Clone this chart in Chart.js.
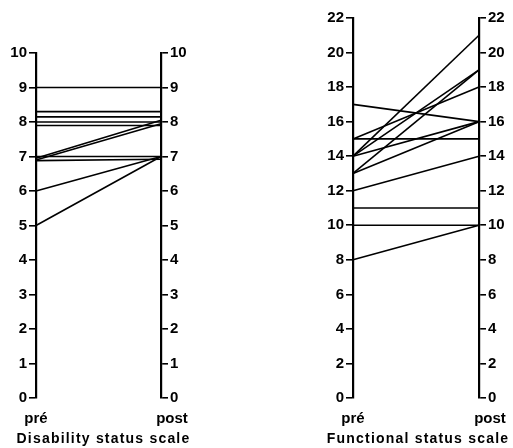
<!DOCTYPE html>
<html>
<head>
<meta charset="utf-8">
<script src="https://cdn.jsdelivr.net/npm/chart.js@4"></script>
<style>
  body { margin: 0; background: #fff; }
  #wrap { position: relative; width: 513px; height: 448px; overflow: hidden; }
  canvas { position: absolute; top: 0; }
</style>
</head>
<body>
<div id="wrap">
  <canvas id="disabilityChart" width="200" height="448" style="left:0px"></canvas>
  <canvas id="functionalChart" width="200" height="448" style="left:313px"></canvas>
</div>
<script>
const timeLabels = ["pré", "post"];

// Disability status scale, one entry per patient (values slightly jittered as drawn)
const disabilityPre = [9, 8.3, 8.15, 8, 7.9, 6.95, 6.9, 7, 6.88, 6, 5];
const disabilityPost = [9, 8.3, 8.15, 8, 7.9, 8.05, 7.95, 7, 6.92, 7, 7];
const disabilityTicks = [0, 1, 2, 3, 4, 5, 6, 7, 8, 9, 10];

// Functional status scale
const functionalPre = [17, 15, 15, 14, 14, 14, 13, 13, 12, 11, 10, 8];
const functionalPost = [16, 18, 15, 21, 19, 16, 19, 16, 14, 11, 10, 10];
const functionalTicks = [0, 2, 4, 6, 8, 10, 12, 14, 16, 18, 20, 22];

const fontFamily = "'Liberation Sans', Arial, sans-serif";

function pairDatasets(pre, post) {
    return pre.map((value, i) => ({
        data: [{ x: 0, y: value }, { x: 1, y: post[i] }],
        borderColor: "#000",
        borderWidth: 1.6,
        pointRadius: 0,
        fill: false,
        clip: false,
    }));
}

function yAxis(position, max, labelled, width) {
    return {
        type: "linear",
        position,
        min: 0,
        max,
        afterBuildTicks: (scale) => {
            const ticks = [];
            for (let v = 0; v <= max; v++) ticks.push({ value: v });
            scale.ticks = ticks;
        },
        afterFit: (scale) => {
            scale.width = width;
        },
        ticks: {
            color: "#000",
            padding: 2,
            font: { family: fontFamily, size: 15, weight: "bold" },
            callback: (value) => (labelled.includes(value) ? String(value) : ""),
        },
        grid: {
            drawOnChartArea: false,
            drawTicks: true,
            tickLength: 7,
            color: "#000",
            lineWidth: 1.6,
        },
        border: { display: true, color: "#000", width: 2.2 },
    };
}

const labelPlugin = {
    id: "prePostLabels",
    afterDraw(chart, args, opts) {
        const { ctx, chartArea } = chart;
        ctx.save();
        ctx.fillStyle = "#000";
        ctx.textAlign = "center";
        ctx.textBaseline = "middle";
        ctx.font = `bold 15px ${fontFamily}`;
        ctx.fillText(timeLabels[0], chartArea.left, 419);
        ctx.fillText(timeLabels[1], chartArea.right + 11, 419);
        ctx.font = `bold 14px ${fontFamily}`;
        ctx.letterSpacing = "1.2px";
        ctx.fillText(opts.title, (chartArea.left + chartArea.right) / 2 + opts.titleShift, 439);
        ctx.restore();
    },
};

function makeChart(id, pre, post, max, labelled, top, leftWidth, rightWidth, title, titleShift) {
    return new Chart(document.getElementById(id), {
        type: "line",
        data: { datasets: pairDatasets(pre, post) },
        options: {
            responsive: false,
            animation: false,
            devicePixelRatio: 1,
            layout: { padding: { top, bottom: 50, left: 0, right: 0 } },
            plugins: {
                legend: { display: false },
                tooltip: { enabled: false },
                prePostLabels: { title, titleShift },
            },
            scales: {
                x: { type: "linear", min: 0, max: 1, display: false },
                y: yAxis("left", max, labelled, leftWidth),
                y2: yAxis("right", max, labelled, rightWidth),
            },
        },
        plugins: [labelPlugin],
    });
}

makeChart("disabilityChart", disabilityPre, disabilityPost, 10, disabilityTicks,
    53, 36, 39, "Disability status scale", 5);
makeChart("functionalChart", functionalPre, functionalPost, 22, functionalTicks,
    18, 40, 34, "Functional status scale", 2);
</script>
</body>
</html>
